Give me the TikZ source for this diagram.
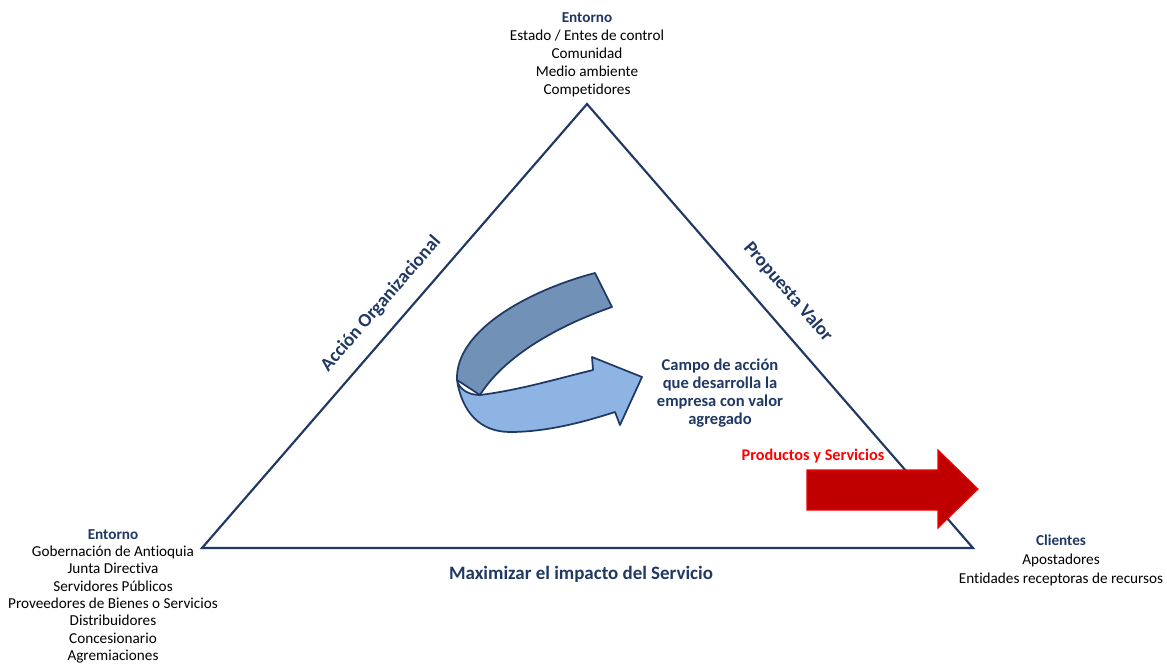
\documentclass[tikz,border=0pt]{standalone}
\usepackage{fontspec}
\setmainfont{Carlito}[Ligatures=NoCommon]
\usetikzlibrary{positioning}
\definecolor{navy}{RGB}{31,56,100}
\definecolor{backband}{RGB}{114,145,183}
\definecolor{frontband}{RGB}{142,180,227}
\definecolor{prodred}{RGB}{192,0,0}

\begin{document}
\begin{tikzpicture}[x=0.75pt,y=-0.75pt,
  side/.style={font=\bfseries\fontsize{14.2}{16}\selectfont, text=navy, inner sep=0pt},
  party/.style={align=center, font=\fontsize{11.4}{13.5}\selectfont, inner sep=0pt, anchor=north},
  band/.style={draw=navy, line width=1.3pt, line join=round}]
\useasboundingbox (0,0) rectangle (1167,664);
% corners of the triangle
  \coordinate (apex) at (587,104);
  \coordinate (left) at (202,548);
  \coordinate (right) at (973,548);
  \draw[navy, line width=1.6pt, line join=miter] (apex) -- (right) -- (left) -- cycle;
% the three groups
  \node[party] (entorno top) at (587,12) {{\bfseries\color{navy}Entorno}\\Estado / Entes de control\\Comunidad\\Medio ambiente\\Competidores};
  \node[party, font=\fontsize{11.4}{13}\selectfont] (entorno left) at (113,529) {{\bfseries\color{navy}Entorno}\\Gobernación de Antioquia\\Junta Directiva\\Servidores Públicos\\Proveedores de Bienes o Servicios\\Distribuidores\\Concesionario\\Agremiaciones};
  \node[party, font=\fontsize{11.4}{14}\selectfont] (clientes) at (1061,535) {{\bfseries\color{navy}Clientes}\\Apostadores\\Entidades receptoras de recursos};
% sides
  \node[side, rotate=49] (accion) at (381,304) {Acción Organizacional};
  \node[side, rotate=-49] (propuesta) at (788,292) {Propuesta Valor};
  \node[side] (impacto) at (581,574) {Maximizar el impacto del Servicio};
% curved arrow
  \draw[band, fill=backband] (595,273) -- (612,307) .. controls (560,325) and (505,355) .. (480,395)
    -- (457,380) .. controls (455,330) and (530,290) .. (595,273) -- cycle;
  \draw[band, fill=frontband] (457,380) .. controls (462,412) and (480,432) .. (510,432)
    .. controls (550,432) and (590,420) .. (615,412) -- (620,425) -- (642,377) -- (592,357) -- (593,370)
    .. controls (560,378) and (520,390) .. (480,395) .. controls (468,395) and (459,389) .. (457,380) -- cycle;
  \node[align=center, font=\bfseries\fontsize{12.4}{13.5}\selectfont, text=navy, inner sep=0pt, anchor=north] (campo) at (720,359)
    {Campo de acción\\que desarrolla la\\empresa con valor\\agregado};
% products
  \node[font=\bfseries\fontsize{12.2}{14}\selectfont, text=red, inner sep=0pt] (productos) at (813,456) {Productos y Servicios};
  \draw[fill=prodred, draw=red!80!prodred, line width=0.8pt, line join=miter]
    (807,470) -- (938,470) -- (938,450) -- (978,489) -- (938,528) -- (938,510) -- (807,510) -- cycle;
\end{tikzpicture}
\end{document}
